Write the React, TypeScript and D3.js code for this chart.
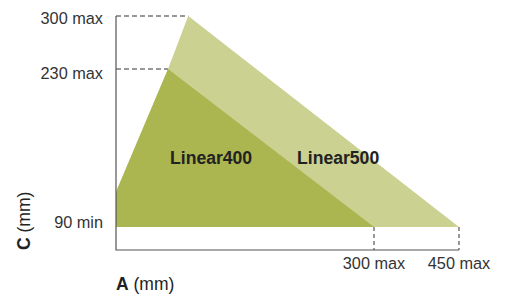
import * as d3 from 'd3';

// Schematic chart: axes are not to scale, so use piecewise scales anchored at the tick values
const xTicks = [300, 450];
const xTickLabels = ['300 max', '450 max'];
const yTicks = [300, 230, 90];
const yTickLabels = ['300 max', '230 max', '90 min'];

// polygons in (A, C) mm
const linear500 = [[0, 121], [60.5, 230], [84, 300], [450, 90], [0, 90]];
const linear400 = [[0, 121], [60.5, 230], [300, 90], [0, 90]];
const areaNames = ['Linear400', 'Linear500'];
const areaLabelPos = [[62.8, 146], [210.5, 146]];

export default function App() {
  const width = 510;
  const height = 298;

  const x = d3.scaleLinear().domain([0, 300, 450]).range([116, 374, 459]);
  const y = d3.scaleLinear().domain([0, 90, 230, 300]).range([250, 227, 69, 16]);

  const line = d3.line<number[]>().x(d => x(d[0])).y(d => y(d[1])).curve(d3.curveLinearClosed);

  // peaks used for the dashed guides
  const guideX = [84, 60.5];
  const labelDy = [8, 10, 1];

  const font = '"Liberation Sans", Arial, Helvetica, sans-serif';

  return (
    <svg width={width} height={height} style={{ position: 'absolute', left: 0, top: 0 }} fontFamily={font}>
      <path d={line(linear500) as string} fill="#cad191" />
      <path d={line(linear400) as string} fill="#abb650" />

      {/* dashed guides to the y ticks */}
      {yTicks.slice(0, 2).map((t, i) => (
        <line key={t} x1={x(0)} x2={x(guideX[i])} y1={y(t)} y2={y(t)}
          stroke="#777" strokeWidth={1.3} strokeDasharray="5,3" />
      ))}
      {xTicks.map(t => (
        <line key={t} x1={x(t)} x2={x(t)} y1={y(90)} y2={y(0)}
          stroke="#555" strokeWidth={1.2} strokeDasharray="4,3" />
      ))}

      {/* axes */}
      <path d={`M${x(0)},${y(300)}V${y(0)}H${x(450)}`} fill="none" stroke="#555" strokeWidth={1.2} />

      {yTicks.map((t, i) => (
        <text key={t} x={103} y={y(t) + labelDy[i]} textAnchor="end" fontSize={16.3} fill="#333">
          {yTickLabels[i]}
        </text>
      ))}
      {xTicks.map((t, i) => (
        <text key={t} x={x(t)} y={269} textAnchor="middle" fontSize={16.3} fill="#333">
          {xTickLabels[i]}
        </text>
      ))}

      {areaNames.map((n, i) => (
        <text key={n} x={x(areaLabelPos[i][0])} y={y(areaLabelPos[i][1])} fontSize={17.6}
          fontWeight="bold" fill="#222">
          {n}
        </text>
      ))}

      <text x={116} y={290} fontSize={17.5} fill="#222">
        <tspan fontWeight="bold">A</tspan> (mm)
      </text>
      <text transform="translate(30,250) rotate(-90)" fontSize={17.5} fill="#222">
        <tspan fontWeight="bold">C</tspan> (mm)
      </text>
    </svg>
  );
}
